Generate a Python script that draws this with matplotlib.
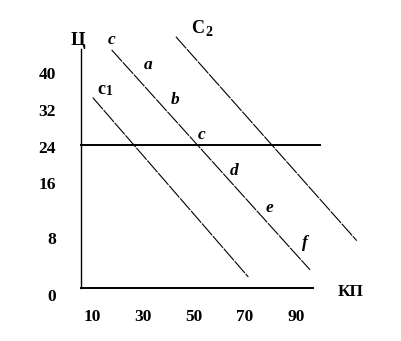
import matplotlib
matplotlib.use("Agg")
import matplotlib.pyplot as plt

# curve end points (КП, Ц)
c1_kp = [10.3, 71.3]
c1_ts = [32.0, 1.9]
c_kp = [17.7, 95.5]
c_ts = [40.0, 3.1]
c2_kp = [42.9, 113.8]
c2_ts = [42.2, 8.0]

price_level = 24
level_kp = [5.6, 99.4]

axis_kp = [5.6, 96.5]
axis_ts = [0, 40.2]

xtick_vals = [10, 30, 50, 70, 90]
ytick_vals = [0, 8, 16, 24, 32, 40]
ytick_pos = [-1.4, 8.1, 17.3, 23.4, 29.6, 35.8]

point_names = ["c", "a", "b", "c", "d", "e", "f"]
point_kp = [17.7, 32.0, 42.6, 53.0, 65.7, 79.5, 93.5]
point_ts = [41.7, 37.5, 31.6, 25.7, 19.6, 13.4, 7.6]

fig = plt.figure(figsize=(4.02, 3.41), dpi=100)
ax = fig.add_axes([0, 0, 1, 1])
ax.set_xlim(-26.08, 131.57)
ax.set_ylim(-8.84, 48.37)
ax.axis("off")

serif = "Liberation Serif"
fs = 12.5

# axes
ax.plot([axis_kp[0], axis_kp[0]], axis_ts, color="black", lw=1.0)
ax.plot(axis_kp, [0, 0], color="black", lw=1.4)
ax.plot(level_kp, [price_level, price_level], color="black", lw=1.4)

# diagonal lines
for xs, ys in [(c1_kp, c1_ts), (c_kp, c_ts), (c2_kp, c2_ts)]:
    ax.plot(xs, ys, color="black", lw=0.8, linestyle=(0, (14, 1)))

# tick labels
for v in xtick_vals:
    ax.text(v, -4.77, str(v), ha="center", va="center", fontsize=fs,
            fontweight="bold", family=serif)
for v, p in zip(ytick_vals, ytick_pos):
    ax.text(-4.2, p, str(v), ha="right", va="center", fontsize=fs,
            fontweight="bold", family=serif)

ax.text(4.4, 41.6, "Ц", ha="center", va="center", fontsize=13.5,
        fontweight="bold", family=serif)
ax.text(111.4, -0.7, "КП", ha="center", va="center", fontsize=fs,
        fontweight="bold", family=serif)

# curve names
ax.text(13.6, 33.4, "c", ha="center", va="center", fontsize=13,
        fontweight="bold", family=serif)
ax.text(16.9, 33.0, "1", ha="center", va="center", fontsize=10,
        fontweight="bold", family=serif)
ax.text(51.6, 43.6, "C", ha="center", va="center", fontsize=13,
        fontweight="bold", family=serif)
ax.text(55.9, 43.0, "2", ha="center", va="center", fontsize=10,
        fontweight="bold", family=serif)

for name, x, y in zip(point_names, point_kp, point_ts):
    ax.text(x, y, name, ha="center", va="center", fontsize=fs,
            fontweight="bold", fontstyle="italic", family=serif)

fig.savefig("out.png", dpi=100)
